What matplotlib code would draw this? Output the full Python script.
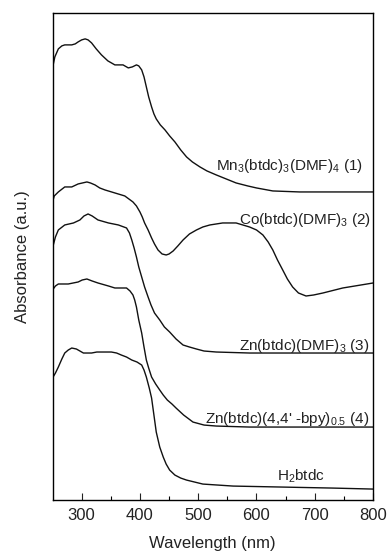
import matplotlib
matplotlib.use("Agg")
import matplotlib.pyplot as plt

plt.rcParams['font.family'] = ['Liberation Sans', 'DejaVu Sans']
plt.rcParams['mathtext.fontset'] = 'custom'
plt.rcParams['mathtext.rm'] = 'Liberation Sans'
plt.rcParams['mathtext.it'] = 'Liberation Sans:italic'

# Mn3(btdc)3(DMF)4 (1)
wl_mn = [250, 254, 260, 266, 271, 283, 289, 294, 300, 306, 311, 317, 325, 334, 345, 357, 371,
         380, 387, 394, 398, 403, 407, 411, 415, 420, 424, 428, 435, 443, 451, 460, 470, 480,
         490, 503, 515, 531, 548, 565, 585, 600, 628, 674, 730, 800]
abs_mn = [4.32, 4.43, 4.51, 4.54, 4.55, 4.55, 4.56, 4.58, 4.60, 4.61, 4.60, 4.57, 4.51, 4.45, 4.39, 4.35, 4.35,
          4.32, 4.33, 4.35, 4.34, 4.30, 4.23, 4.13, 4.03, 3.93, 3.86, 3.81, 3.75, 3.70, 3.64, 3.58, 3.50, 3.43,
          3.38, 3.33, 3.29, 3.25, 3.21, 3.17, 3.14, 3.12, 3.09, 3.08, 3.08, 3.08]

# Co(btdc)(DMF)3 (2)
wl_co = [250, 253, 260, 271, 283, 294, 309, 315, 323, 331, 340, 357, 374, 388, 394, 400, 404,
         408, 414, 420, 425, 431, 438, 445, 450, 457, 465, 474, 485, 497, 508, 520, 542, 565,
         588, 600, 611, 620, 628, 636, 645, 653, 662, 672, 685, 698, 714, 748, 800]
abs_co = [2.98, 3.04, 3.08, 3.13, 3.13, 3.16, 3.18, 3.17, 3.15, 3.12, 3.10, 3.07, 3.04, 2.98, 2.94, 2.88, 2.83,
          2.77, 2.70, 2.62, 2.56, 2.50, 2.46, 2.45, 2.46, 2.49, 2.54, 2.60, 2.66, 2.70, 2.73, 2.75, 2.77, 2.77,
          2.73, 2.70, 2.65, 2.58, 2.50, 2.40, 2.30, 2.21, 2.13, 2.07, 2.04, 2.05, 2.07, 2.12, 2.17]

# Zn(btdc)(DMF)3 (3)
wl_zn3 = [250, 255, 260, 271, 286, 297, 304, 311, 318, 328, 346, 363, 377, 382, 386, 390, 394,
          398, 403, 408, 414, 419, 425, 434, 442, 451, 462, 474, 485, 497, 510, 531, 588, 800]
abs_zn3 = [2.52, 2.63, 2.70, 2.75, 2.77, 2.80, 2.84, 2.86, 2.84, 2.80, 2.77, 2.75, 2.72, 2.67, 2.60, 2.52, 2.43,
           2.33, 2.23, 2.13, 2.03, 1.95, 1.87, 1.80, 1.73, 1.68, 1.61, 1.55, 1.53, 1.51, 1.49, 1.48, 1.47, 1.47]

# Zn(btdc)(4,4'-bpy)0.5 (4)
wl_zn4 = [250, 255, 260, 277, 294, 301, 309, 318, 328, 346, 357, 377, 383, 388, 391, 394, 398,
          403, 407, 411, 415, 420, 427, 434, 440, 447, 455, 462, 475, 491, 510, 531, 588, 800]
abs_zn4 = [2.10, 2.14, 2.16, 2.16, 2.18, 2.20, 2.21, 2.19, 2.17, 2.14, 2.12, 2.12, 2.09, 2.05, 2.00, 1.93, 1.80,
           1.67, 1.53, 1.40, 1.32, 1.23, 1.16, 1.10, 1.05, 1.00, 0.96, 0.92, 0.85, 0.78, 0.75, 0.74, 0.73, 0.73]

# H2btdc
wl_h2 = [250, 255, 260, 266, 271, 277, 283, 291, 297, 303, 317, 326, 334, 351, 360, 368, 377,
         386, 395, 403, 407, 411, 416, 420, 424, 428, 434, 440, 445, 451, 460, 470, 480, 508,
         560, 645, 731, 800]
abs_h2 = [1.22, 1.27, 1.33, 1.41, 1.47, 1.50, 1.52, 1.51, 1.49, 1.47, 1.47, 1.48, 1.48, 1.48, 1.47, 1.45, 1.43,
          1.40, 1.38, 1.35, 1.30, 1.23, 1.12, 1.02, 0.85, 0.68, 0.53, 0.43, 0.36, 0.30, 0.25, 0.22, 0.20, 0.16,
          0.14, 0.13, 0.12, 0.11]

labels = [r"Mn$_3$(btdc)$_3$(DMF)$_4$ (1)", r"Co(btdc)(DMF)$_3$ (2)", r"Zn(btdc)(DMF)$_3$ (3)",
          r"Zn(btdc)(4,4' -bpy)$_{0.5}$ (4)", r"H$_2$btdc"]
label_x = [782, 797, 794, 794, 717]
label_y = [3.30, 2.76, 1.50, 0.77, 0.19]

fig = plt.figure(figsize=(3.89, 5.6), dpi=100)
ax = fig.add_axes([0.135, 0.107, 0.824, 0.870])

for wl, a in [(wl_mn, abs_mn), (wl_co, abs_co), (wl_zn3, abs_zn3), (wl_zn4, abs_zn4), (wl_h2, abs_h2)]:
    ax.plot(wl, a, color='#111111', lw=1.0, solid_joinstyle='round')

for txt, x, y in zip(labels, label_x, label_y):
    ax.text(x, y, txt, ha='right', va='baseline', fontsize=11, color='#222222')

ax.set_xlim(250, 800)
ax.set_ylim(0, 4.87)
ax.set_xticks([300, 400, 500, 600, 700, 800])
ax.set_xticks([350, 450, 550, 650, 750], minor=True)
ax.set_yticks([])
ax.tick_params(axis='x', which='major', direction='in', length=5, width=0.8, pad=6,
               labelsize=12, colors='#222222')
ax.tick_params(axis='x', which='minor', direction='in', length=3, width=0.8)
for s in ax.spines.values():
    s.set_linewidth(1.0)
ax.set_xlabel("Wavelength (nm)", fontsize=12, labelpad=9, color='#222222')
ax.set_ylabel("Absorbance (a.u.)", fontsize=12, labelpad=16, color='#222222')

fig.savefig("out.png", dpi=100)
